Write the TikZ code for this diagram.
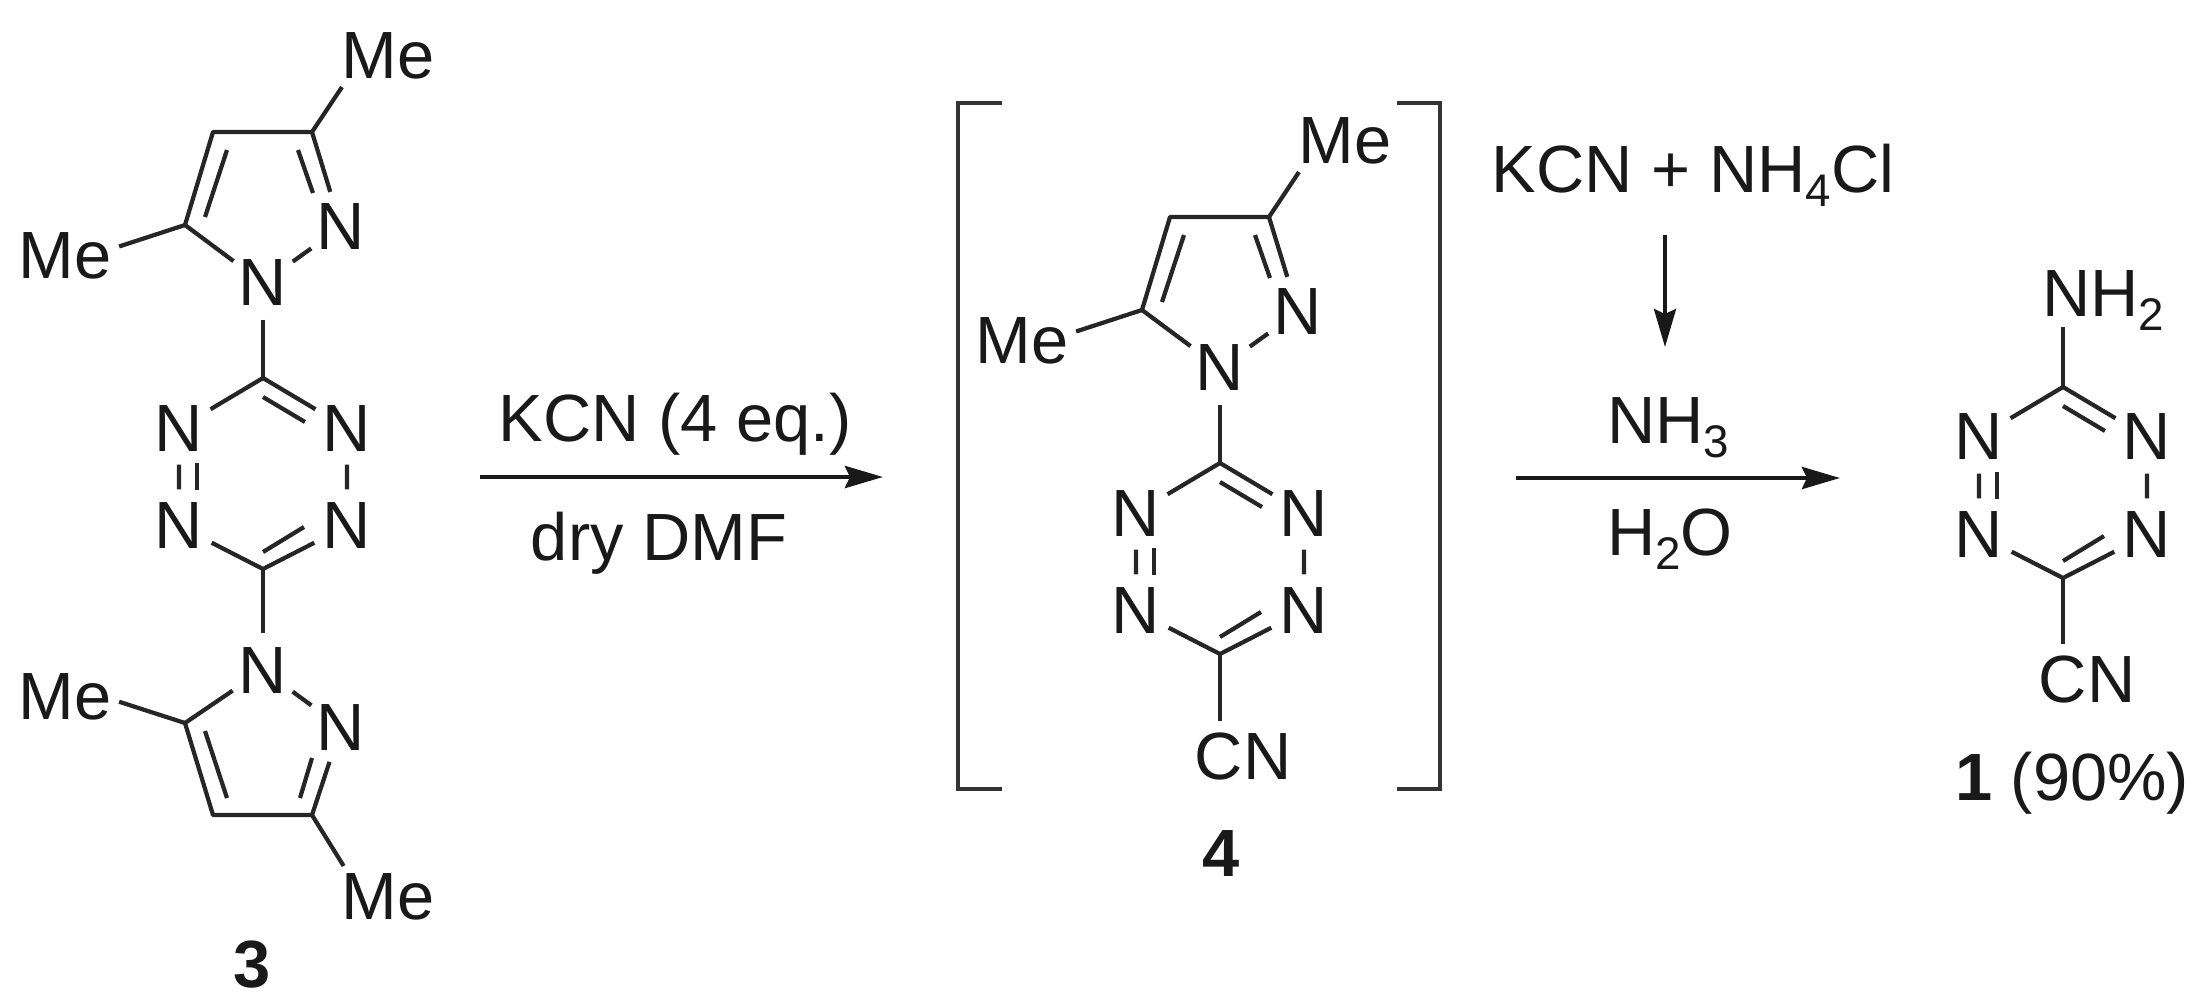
\documentclass[tikz,border=0pt]{standalone}
\usepackage{fontspec}
\setmainfont{Liberation Sans}
\usetikzlibrary{arrows.meta}

\newcommand{\sbs}[1]{\smash{\raisebox{-.22em}{\fontsize{13}{14}\selectfont #1}}}

% pyrazole with its ring pointing up, origin at the tetrazine carbon
\newcommand{\pyrazoleup}[2]{
  \begin{scope}[shift={(#2)}]
    \coordinate (#1c3) at (49,-246);
    \coordinate (#1c4) at (-50,-246);
    \coordinate (#1c5) at (-78,-153);
    \coordinate (#1c6) at (0,0);
    \coordinate (#1d1) at (35,-228);
    \coordinate (#1d2) at (50,-185);
    \coordinate (#1d3) at (-36,-228);
    \coordinate (#1d4) at (-58,-161);
    \node[atom] (#1n1) at (0,-95) {N};
    \node[atom] (#1n2) at (78,-151) {N};
    \node[methyl] (#1me1) at (125,-322) {Me};
    \node[methyl] (#1me2) at (-198,-122) {Me};
    \draw[bond] (#1n1) -- (#1c5) -- (#1c4) -- (#1c3) -- (#1n2);
    \draw[bond] (#1n1) -- (#1n2);
    \draw[bond] (#1d1) -- (#1d2);
    \draw[bond] (#1d3) -- (#1d4);
    \draw[bond] (#1c3) -- (#1me1.-146);
    \draw[bond] (#1c5) -- (#1me2.10);
    \draw[bond] (#1n1) -- (#1c6);
  \end{scope}
}

% tetrazine ring, origin at its top carbon
\newcommand{\tetrazine}[2]{
  \begin{scope}[shift={(#2)}]
    \coordinate (#1c1) at (0,0);
    \coordinate (#1c2) at (0,191);
    \coordinate (#1d1) at (0,19);
    \coordinate (#1d2) at (42,44);
    \coordinate (#1d3) at (0,174);
    \coordinate (#1d4) at (41,149);
    \coordinate (#1d5) at (-66,85);
    \coordinate (#1d6) at (-66,112);
    \node[atom] (#1n1) at (-84,50) {N};
    \node[atom] (#1n2) at (84,50) {N};
    \node[atom] (#1n3) at (-84,148) {N};
    \node[atom] (#1n4) at (84,148) {N};
    \draw[bond] (#1n1) -- (#1c1) -- (#1n2) -- (#1n4) -- (#1c2) -- (#1n3) -- (#1n1);
    \draw[bond] (#1d1) -- (#1d2);
    \draw[bond] (#1d3) -- (#1d4);
    \draw[bond] (#1d5) -- (#1d6);
  \end{scope}
}

\begin{document}
\begin{tikzpicture}[
      x=.01cm, y=-.01cm,
      label/.style = {inner sep=0, font=\fontsize{19}{22}\selectfont, text=black!90},
      atom/.style = {label, circle, minimum size=.72cm},
      methyl/.style = {label, inner sep=2pt},
      group/.style = {label, inner sep=3pt},
      cpd/.style = {label, font=\fontsize{19}{22}\selectfont\bfseries},
      reagent/.style = {label, anchor=base},
      bond/.style = {line width=1.2pt, draw=black!85, line join=round},
      bracket/.style = {line width=1.35pt, draw=black!80},
      react/.style = {-{Stealth[length=.38cm,width=.22cm,inset=.05cm]}, line width=1.25pt, draw=black!90}
      ]
      \path[use as bounding box] (0,0) rectangle (2196,1005);

      % compound 3
      \pyrazoleup{a}{263,378}
      \tetrazine{t}{263,378}
      \node[atom] (bn1) at (263,670) {N};
      \node[atom] (bn2) at (341,727) {N};
      \node[methyl] (bme1) at (388,897) {Me};
      \node[methyl] (bme2) at (65,697) {Me};
      \coordinate (bc3) at (312,815);
      \coordinate (bc4) at (213,815);
      \coordinate (bc5) at (185,723);
      \coordinate (bd1) at (300,798);
      \coordinate (bd2) at (312,758);
      \coordinate (bd3) at (227,798);
      \coordinate (bd4) at (205,731);
      \draw[bond] (bn1) -- (bc5) -- (bc4) -- (bc3) -- (bn2);
      \draw[bond] (bn1) -- (bn2);
      \draw[bond] (bd1) -- (bd2);
      \draw[bond] (bd3) -- (bd4);
      \draw[bond] (bc3) -- (bme1.145);
      \draw[bond] (bc5) -- (bme2.-5);
      \draw[bond] (tc2) -- (bn1);
      \node[cpd] (three) at (252,965) {3};

      % compound 4
      \pyrazoleup{e}{1220,463}
      \tetrazine{f}{1220,463}
      \node[group] (fcn) at (1243,756) {CN};
      \draw[bond] (fc2) -- (fc2 |- fcn.north);
      \node[cpd] (four) at (1221,853) {4};
      \coordinate (bl1) at (1002,103);
      \coordinate (bl2) at (958,103);
      \coordinate (bl3) at (958,789);
      \coordinate (bl4) at (1002,789);
      \coordinate (br1) at (1397,103);
      \coordinate (br2) at (1440,103);
      \coordinate (br3) at (1440,789);
      \coordinate (br4) at (1397,789);
      \draw[bracket] (bl1) -- (bl2) -- (bl3) -- (bl4);
      \draw[bracket] (br1) -- (br2) -- (br3) -- (br4);

      % compound 1
      \tetrazine{p}{2063,387}
      \node[group, anchor=base] (pnh) at (2103,316) {NH\sbs{2}};
      \node[group] (pcn) at (2087,679) {CN};
      \draw[bond] (pc1) -- (pc1 |- pnh.south);
      \draw[bond] (pc2) -- (pc2 |- pcn.north);
      \node[reagent] (one) at (2072,800) {\textbf{1} (90\%)};

      % first step
      \coordinate (s1) at (480,477);
      \coordinate (s2) at (883,477);
      \draw[react] (s1) -- (s2);
      \node[reagent] (kcn) at (675,441) {KCN (4 eq.)};
      \node[reagent] (dmf) at (659,560) {dry DMF};

      % second step
      \coordinate (s3) at (1516,478);
      \coordinate (s4) at (1840,478);
      \coordinate (s5) at (1665,235);
      \coordinate (s6) at (1665,347);
      \draw[react] (s3) -- (s4);
      \draw[react, line width=1.1pt] (s5) -- (s6);
      \node[reagent] (salt) at (1693,192) {KCN + NH\sbs{4}Cl};
      \node[reagent] (amm) at (1668,443) {NH\sbs{3}};
      \node[reagent] (wat) at (1670,555) {H\sbs{2}O};
\end{tikzpicture}
\end{document}
